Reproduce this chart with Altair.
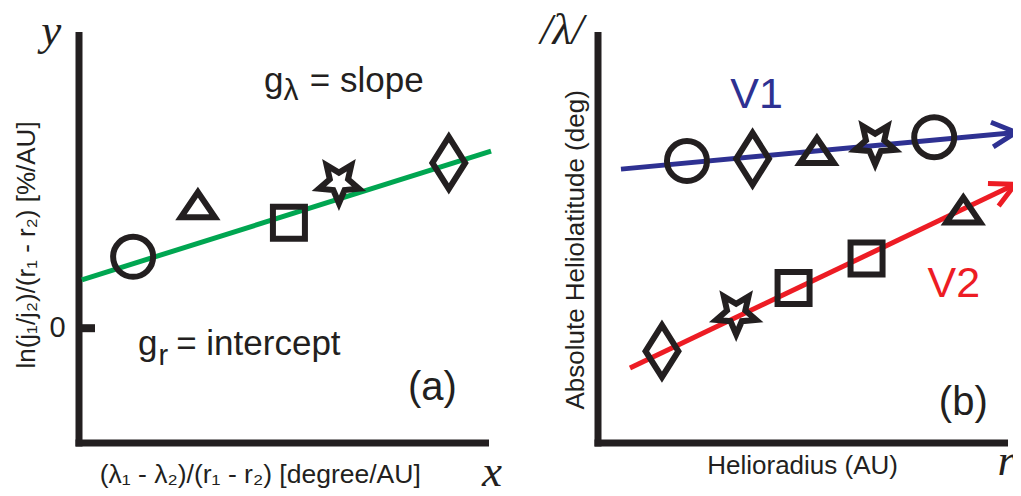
import math
import altair as alt
import pandas as pd

# ---------------- data: panel (a) ----------------
A_SHAPES = ["circle", "triangle", "square", "star", "diamond"]
A_X = [13.2, 29.0, 51.2, 63.4, 90.2]
A_Y = [17.4, 30.0, 25.7, 35.6, 40.3]
A_FIT_X = [0.7, 100.5]
A_FIT_Y = [11.8, 43.2]

# ---------------- data: panel (b) ----------------
V1_SHAPES = ["circle", "diamond", "triangle", "star", "circle"]
V1_X = [21.7, 37.7, 53.4, 67.6, 82.0]
V1_Y = [68.8, 69.3, 71.2, 73.1, 74.6]
V2_SHAPES = ["diamond", "star", "square", "square", "triangle"]
V2_X = [15.6, 33.7, 47.7, 65.5, 89.1]
V2_Y = [22.4, 31.6, 37.8, 45.0, 56.7]
V1_FIT_X = [5.6, 101.95]
V1_FIT_Y = [66.8, 75.76]
V2_FIT_X = [7.8, 101.7]
V2_FIT_Y = [18.3, 63.07]

# ---------------- texts ----------------
A_TITLE_Y = "ln(j\u2081/j\u2082)/(r\u2081 - r\u2082) [%/AU]"
A_TITLE_X = "(\u03bb\u2081 - \u03bb\u2082)/(r\u2081 - r\u2082) [degree/AU]"
B_TITLE_Y = "Absolute Heliolatitude (deg)"
B_TITLE_X = "Helioradius (AU)"

# ---------------- layout / styling ----------------
CW, CH = 1005, 480          # whole drawing (fits the 1021x496 page)
PPU = 4.1                    # pixels per panel unit
INK = "#231f20"
BLUE = "#2e3192"
RED = "#ed1c24"
GREEN = "#00a651"
SANS = "Liberation Sans"
SERIF = "Liberation Serif"

PATHS = {
    "circle": "M-1,0A1,1,0,1,1,1,0A1,1,0,1,1,-1,0Z",
    "square": "M-0.8,-0.8L0.8,-0.8L0.8,0.8L-0.8,0.8Z",
    "triangle": "M0,-0.65L0.85,0.6L-0.85,0.6Z",
    "diamond": "M0,-1.3L0.82,0L0,1.3L-0.82,0Z",
    "star": ("M0,1.05L-0.282,0.388L-0.999,0.325L-0.457,-0.148L-0.617,-0.85"
             "L0,-0.48L0.617,-0.85L0.457,-0.148L0.999,0.325L0.282,0.388Z"),
}
CHEVRON = "M-1.2,-0.62L0,0L-1.2,0.62"


def domains(ox, oy, x0, y0):
    """Scale domains so that value (x0, y0) lands at canvas pixel (ox, oy)."""
    xdom = [x0 - ox / PPU, x0 + (CW - ox) / PPU]
    ydom = [y0 - (CH - oy) / PPU, y0 + oy / PPU]
    return xdom, ydom


def enc(dom, **extra):
    xdom, ydom = dom
    return dict(
        x=alt.X("x:Q", scale=alt.Scale(domain=xdom, nice=False, zero=False), axis=None),
        y=alt.Y("y:Q", scale=alt.Scale(domain=ydom, nice=False, zero=False), axis=None),
        **extra,
    )


def markers(shapes, x, y, dom):
    df = pd.DataFrame({"x": x, "y": y, "shape": [PATHS[s] for s in shapes]})
    return alt.Chart(df).mark_point(
        filled=False, stroke=INK, strokeWidth=6, size=1600, opacity=1,
        strokeJoin="miter", strokeMiterLimit=10,
    ).encode(**enc(dom, shape=alt.Shape("shape:N", scale=None)))


def fitline(x, y, color, dom):
    df = pd.DataFrame({"x": x, "y": y})
    return alt.Chart(df).mark_line(color=color, strokeWidth=5, strokeCap="butt").encode(
        **enc(dom))


def arrowhead(x, y, color, dom):
    ang = math.degrees(math.atan2(-(y[1] - y[0]), x[1] - x[0])) % 360
    df = pd.DataFrame({"x": [x[1]], "y": [y[1]], "a": [ang]})
    return alt.Chart(df).mark_point(
        shape=CHEVRON, filled=False, stroke=color, strokeWidth=5, size=1600,
        opacity=1, strokeJoin="miter",
    ).encode(**enc(dom, angle=alt.Angle("a:Q", scale=None)))


def frame(dom, y0, top, right):
    df = pd.DataFrame({"x": [0, 0], "y": [y0, y0], "x2": [0, right], "y2": [top, y0]})
    return alt.Chart(df).mark_rule(color=INK, strokeWidth=7, strokeCap="square").encode(
        **enc(dom, x2="x2:Q", y2="y2:Q"))


def text(labels, x, y, dom, **kw):
    df = pd.DataFrame({"x": x, "y": y, "t": labels})
    base = dict(font=SANS, color=INK, baseline="alphabetic")
    base.update(kw)
    return alt.Chart(df).mark_text(**base).encode(**enc(dom, text="t:N"))


# ---------------- panel (a) ----------------
DA = domains(71, 435, 0, -28)
zero_tick = alt.Chart(pd.DataFrame({"x": [0], "x2": [3.9], "y": [0]})).mark_rule(
    color=INK, strokeWidth=8, strokeCap="butt").encode(**enc(DA, x2="x2:Q"))

panel_a = alt.layer(
    frame(DA, -28, 71.4, 99.15),
    zero_tick,
    fitline(A_FIT_X, A_FIT_Y, GREEN, DA),
    markers(A_SHAPES, A_X, A_Y, DA),
    text(["0"], [-5.2], [-2.15], DA, fontSize=29, align="center"),
    text(["y"], [-6.8], [69.1], DA, font=SERIF, fontStyle="italic", fontSize=45, align="center"),
    text(["x"], [100.7], [-38.6], DA, font=SERIF, fontStyle="italic", fontSize=45, align="center"),
    text(["g", "g"], [45.1, 14.4], [57.6, -6.5], DA, fontSize=35, align="left"),
    text(["\u03bb"], [49.9], [55.6], DA, fontSize=30, align="left"),
    text(["r"], [19.4], [-9.0], DA, fontSize=29, align="left"),
    text(["= slope", "= intercept"], [56.3, 23.7], [57.6, -6.5], DA, fontSize=35, align="left"),
    text(["(a)"], [86.2], [-17.5], DA, fontSize=40, align="center"),
    text([A_TITLE_X], [44.2], [-37.75], DA, fontSize=26.5, align="center"),
    text([A_TITLE_Y], [-12.7], [20.3], DA, fontSize=26, align="center",
         baseline="middle", angle=270),
)

# ---------------- panel (b) ----------------
DB = domains(590, 435, 0, 0)
panel_b = alt.layer(
    frame(DB, 0, 99.4, 99.15),
    fitline(V1_FIT_X, V1_FIT_Y, BLUE, DB),
    arrowhead(V1_FIT_X, V1_FIT_Y, BLUE, DB),
    fitline(V2_FIT_X, V2_FIT_Y, RED, DB),
    arrowhead(V2_FIT_X, V2_FIT_Y, RED, DB),
    markers(V1_SHAPES, V1_X, V1_Y, DB),
    markers(V2_SHAPES, V2_X, V2_Y, DB),
    text(["/\u03bb/"], [-8.8], [97.3], DB, font=SERIF, fontStyle="italic", fontSize=44, align="center"),
    text(["r"], [99.6], [-7.8], DB, font=SERIF, fontStyle="italic", fontSize=45, align="center"),
    text(["V1"], [38.7], [81.7], DB, fontSize=43, align="center", color=BLUE),
    text(["V2"], [86.8], [35.6], DB, fontSize=43, align="center", color=RED),
    text(["(b)"], [89.1], [6.8], DB, fontSize=40, align="center"),
    text([B_TITLE_X], [49.9], [-7.5], DB, fontSize=26, align="center"),
    text([B_TITLE_Y], [-5.4], [47.1], DB, fontSize=26, align="center",
         baseline="middle", angle=270),
)

chart = alt.layer(panel_a, panel_b).resolve_scale(
    x="independent", y="independent"
).properties(
    width=CW, height=CH, padding=0, background="white",
    autosize=alt.AutoSizeParams(type="none"),
).configure_view(strokeWidth=0)

chart.save("out.html", embed_options={"renderer": "svg", "actions": False})
